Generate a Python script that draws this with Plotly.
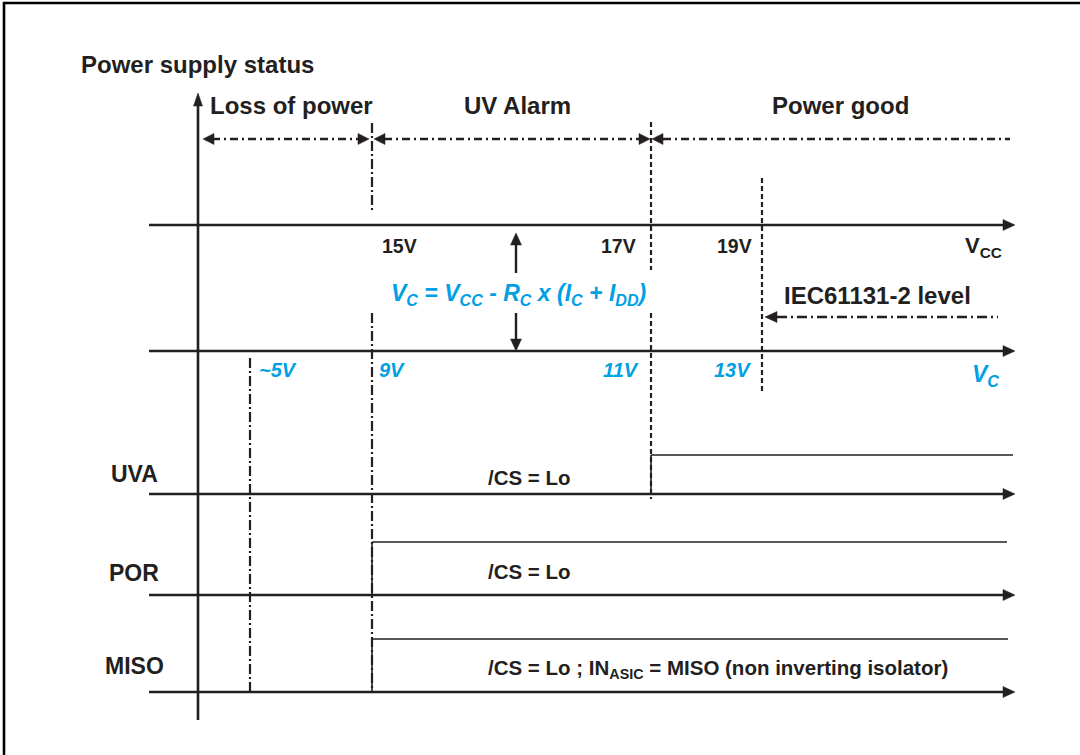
import plotly.graph_objects as go

# ---------------- data (labels / thresholds) ----------------
axis_title = "Power supply status"
status_regions = ["Loss of power", "UV Alarm", "Power good"]
vcc_thresholds = ["15V", "17V", "19V"]
vc_thresholds = ["~5V", "9V", "11V", "13V"]
signals = ["UVA", "POR", "MISO"]
signal_notes = ["/CS = Lo", "/CS = Lo",
                "/CS = Lo ; IN<sub>ASIC</sub> = MISO (non inverting isolator)"]
formula = "V<sub>C</sub> = V<sub>CC</sub> - R<sub>C</sub> x (I<sub>C</sub> + I<sub>DD</sub>)"
iec_label = "IEC61131-2 level"

# ---------------- layout geometry (pixel space) ----------------
W, H = 1080, 755
BLACK = "#231f20"
CYAN = "#00a0e3"
FONT = "Liberation Sans, Arial, sans-serif"

X0, X1 = 149, 1015          # horizontal axes start / arrow tip
YAX = 198                   # vertical axis x
Y_VCC, Y_VC = 225, 351
Y_SIG = [494, 595, 692]     # signal baselines
Y_HIGH = [455, 542, 639]    # signal high level
X_EDGE = [651, 372, 372]    # rising edge x of each signal
X_HIGH_END = [1013, 1007, 1008]
X_T = {"5": 250, "9": 372, "11": 651, "13": 762}

shapes = []
ann = []

def line(x0, y0, x1, y1, w=2.6, dash="solid", color=BLACK):
    shapes.append(dict(type="line", xref="x", yref="y", x0=x0, y0=y0, x1=x1, y1=y1,
                       line=dict(color=color, width=w, dash=dash), layer="above"))

def head(tx, ty, direction, length=12, half=5, color=BLACK):
    if direction == "right":
        p = f"M{tx},{ty} L{tx-length},{ty-half} L{tx-length},{ty+half} Z"
    elif direction == "left":
        p = f"M{tx},{ty} L{tx+length},{ty-half} L{tx+length},{ty+half} Z"
    elif direction == "up":
        p = f"M{tx},{ty} L{tx-half},{ty+length} L{tx+half},{ty+length} Z"
    else:
        p = f"M{tx},{ty} L{tx-half},{ty-length} L{tx+half},{ty-length} Z"
    shapes.append(dict(type="path", xref="x", yref="y", path=p, fillcolor=color,
                       line=dict(color=color, width=0.5), layer="above"))

def text(x, y, s, size, color=BLACK, anchor="left", italic=False):
    ann.append(dict(x=x, y=y, xref="x", yref="y", text=s, showarrow=False,
                    xanchor=anchor, yanchor="middle", borderpad=0,
                    font=dict(family=FONT, size=size, color=color, weight="bold",
                              style="italic" if italic else "normal")))

DASHDOT = "10px,3px,2px,3px"
DASHED = "5px,3px"
ARROWDASH = "8px,4px,2px,4px"

# frame
line(3, 3, W + 5, 3, w=2.6, color="black")
line(4, 2, 4, H + 5, w=2.6, color="black")

# vertical axis
line(YAX, 104, YAX, 720, w=2.6)
head(YAX, 93, "up", length=13, half=4.5)
text(80, 64, axis_title, 24)

# status region labels and arrows
text(209, 105, status_regions[0], 24)
text(463, 105, status_regions[1], 24)
text(771, 105, status_regions[2], 24)
YR = 139
line(212, YR, 360, YR, w=2.5, dash=ARROWDASH)
head(203, YR, "left", 11, 5.5)
head(369, YR, "right", 11, 5.5)
line(384, YR, 641, YR, w=2.5, dash=ARROWDASH)
head(374, YR, "left", 11, 5.5)
head(650, YR, "right", 11, 5.5)
line(663, YR, 1010, YR, w=2.5, dash=ARROWDASH)
head(652, YR, "left", 11, 5.5)

# Vcc and Vc axes
for yy in (Y_VCC, Y_VC):
    line(X0, yy, X1 - 10, yy, w=2.6)
    head(X1, yy, "right", 12, 5.5)

# threshold vertical lines
line(X_T["9"], 123, X_T["9"], 212, w=2.2, dash=DASHDOT)
line(X_T["9"], 313, X_T["9"], Y_SIG[2], w=2.2, dash=DASHDOT)
line(X_T["11"], 122, X_T["11"], 270, w=2.2, dash=DASHED)
line(X_T["11"], 313, X_T["11"], Y_SIG[0] + 5, w=2.2, dash=DASHED)
line(X_T["13"], 178, X_T["13"], 392, w=2.2, dash=DASHED)
line(X_T["5"], 358, X_T["5"], Y_SIG[2], w=2.2, dash=DASHDOT)

# Vcc labels
text(381, 246, vcc_thresholds[0], 19.5)
text(637, 246, vcc_thresholds[1], 19.5, anchor="right")
text(753, 246, vcc_thresholds[2], 19.5, anchor="right")
text(1003, 247, "V<sub>CC</sub>", 22, anchor="right")

# Vc labels
text(258, 370, vc_thresholds[0], 20, CYAN, italic=True)
text(378, 370, vc_thresholds[1], 20, CYAN, italic=True)
text(640, 370, vc_thresholds[2], 20, CYAN, anchor="right", italic=True)
text(752, 370, vc_thresholds[3], 20, CYAN, anchor="right", italic=True)
text(1000, 375, "V<sub>C</sub>", 23, CYAN, anchor="right", italic=True)

# formula with double arrow
text(390, 294, formula, 23, CYAN, italic=True)
line(516, 244, 516, 273, w=2.4)
head(516, 233, "up", 12, 5.5)
line(516, 313, 516, 340, w=2.4)
head(516, 351, "down", 12, 5.5)

# IEC level
text(783, 295, iec_label, 24)
line(777, 317, 998, 317, w=2.4, dash="10px,4px,2px,4px")
head(765, 317, "left", 12, 5.5)

# signal lines
label_y = [474, 573, 666]
note_y = [477, 571, 669]
for i, s in enumerate(signals):
    line(X0, Y_SIG[i], X1 - 10, Y_SIG[i], w=2.6)
    head(X1, Y_SIG[i], "right", 12, 5.5)
    line(X_EDGE[i], Y_SIG[i], X_EDGE[i], Y_HIGH[i], w=1.6)
    line(X_EDGE[i], Y_HIGH[i], X_HIGH_END[i], Y_HIGH[i], w=1.3)
    text(134, label_y[i], s, 23, anchor="center")
    text(487, note_y[i], signal_notes[i], 20.5)

fig = go.Figure()
fig.update_layout(
    width=W, height=H, margin=dict(l=0, r=0, t=0, b=0),
    paper_bgcolor="white", plot_bgcolor="white",
    xaxis=dict(range=[0, W], visible=False, fixedrange=True),
    yaxis=dict(range=[H, 0], visible=False, fixedrange=True),
    shapes=shapes, annotations=ann, showlegend=False,
)
fig.write_html(
    "out.html",
    config={"displayModeBar": False},
    post_script="document.body.style.margin='0';document.body.style.overflow='hidden';",
)
